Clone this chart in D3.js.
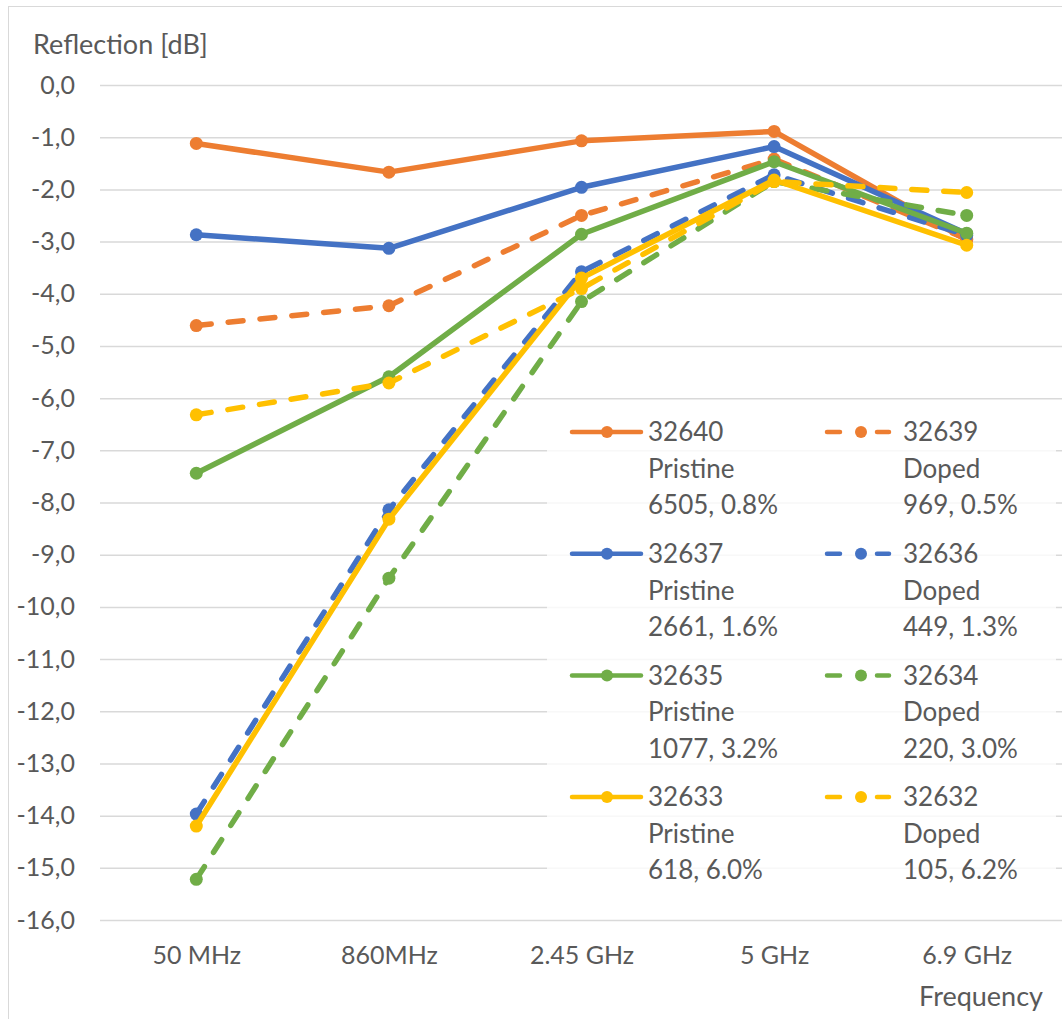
<!DOCTYPE html>
<html>
<head>
<meta charset="utf-8">
<script src="https://cdn.jsdelivr.net/npm/d3@7"></script>
<style>
    body { margin: 0; background: #fff; }
    text { font-family: Lato, "Open Sans", sans-serif; fill: #595959; }
</style>
</head>
<body>
<div id="chart"></div>
<script>
// chart data
var categories = ["50 MHz", "860MHz", "2.45 GHz", "5 GHz", "6.9 GHz"];
var yTicks = [0, -1, -2, -3, -4, -5, -6, -7, -8, -9, -10, -11, -12, -13, -14, -15, -16];

var s32640 = [-1.12, -1.67, -1.07, -0.89, -2.97];
var s32639 = [-4.61, -4.23, -2.50, -1.42, -2.95];
var s32637 = [-2.87, -3.13, -1.96, -1.18, -2.85];
var s32636 = [-13.97, -8.14, -3.58, -1.72, -2.88];
var s32635 = [-7.44, -5.59, -2.86, -1.47, -2.84];
var s32634 = [-15.22, -9.45, -4.15, -1.85, -2.50];
var s32633 = [-14.20, -8.32, -3.70, -1.82, -3.07];
var s32632 = [-6.32, -5.71, -3.90, -1.85, -2.06];

var seriesNames = ["32640", "32639", "32637", "32636", "32635", "32634", "32633", "32632"];
var seriesKinds = ["Pristine", "Doped", "Pristine", "Doped", "Pristine", "Doped", "Pristine", "Doped"];
var seriesInfo = ["6505, 0.8%", "969, 0.5%", "2661, 1.6%", "449, 1.3%", "1077, 3.2%", "220, 3.0%", "618, 6.0%", "105, 6.2%"];
var seriesValues = [s32640, s32639, s32637, s32636, s32635, s32634, s32633, s32632];

var colors = ["#ED7D31", "#ED7D31", "#4472C4", "#4472C4", "#70AD47", "#70AD47", "#FFC000", "#FFC000"];

var width = 1062;
var height = 1019;

var svg = d3.select("#chart")
    .append("svg")
    .attr("width", width)
    .attr("height", height);

svg.append("rect")
    .attr("width", width)
    .attr("height", height)
    .attr("fill", "#fff");

// chart border
svg.append("rect")
    .attr("x", 8.5)
    .attr("y", 6.5)
    .attr("width", 1100)
    .attr("height", 1100)
    .attr("fill", "none")
    .attr("stroke", "#d9d9d9");

var x = d3.scalePoint()
    .domain(categories)
    .range([100, 1063])
    .padding(0.5);

var y = d3.scaleLinear()
    .domain([-16, 0])
    .range([920, 85]);

var locale = d3.formatLocale({ decimal: ",", thousands: ".", grouping: [3], currency: ["", ""], minus: "-" });
var fmt = locale.format(".1f");

// gridlines + y labels
var yAxis = d3.axisLeft(y)
    .tickValues(yTicks)
    .tickSize(-963)
    .tickPadding(25)
    .tickFormat(fmt);

var yg = svg.append("g")
    .attr("transform", "translate(100,0)")
    .call(yAxis);
yg.select(".domain").remove();
yg.selectAll("line").attr("stroke", "#d9d9d9").attr("stroke-width", 1.5);
yg.selectAll("text")
    .style("font-family", "Lato, sans-serif")
    .style("font-size", "25px")
    .attr("fill", "#595959");

// x labels
var xAxis = d3.axisBottom(x).tickSize(0).tickPadding(26);
var xg = svg.append("g")
    .attr("transform", "translate(0,920)")
    .call(xAxis);
xg.select(".domain").remove();
xg.selectAll("text")
    .style("font-family", "Lato, sans-serif")
    .style("font-size", "25px")
    .attr("fill", "#595959");

svg.append("text")
    .attr("x", 33)
    .attr("y", 54)
    .style("font-size", "27px")
    .text("Reflection [dB]");

svg.append("text")
    .attr("x", 1043)
    .attr("y", 1006)
    .attr("text-anchor", "end")
    .style("font-size", "27px")
    .text("Frequency");

// series lines and markers
var line = d3.line()
    .x(function (d, i) { return x(categories[i]); })
    .y(function (d) { return y(d); });

seriesValues.forEach(function (values, s) {
    var dashed = seriesKinds[s] === "Doped";
    svg.append("path")
        .attr("d", line(values))
        .attr("fill", "none")
        .attr("stroke", colors[s])
        .attr("stroke-width", 5.5)
        .attr("stroke-linejoin", "round")
        .attr("stroke-linecap", "round")
        .attr("stroke-dasharray", dashed ? "15,17" : null);

    svg.selectAll(".pt" + s)
        .data(values)
        .enter().append("circle")
        .attr("cx", function (d, i) { return x(categories[i]); })
        .attr("cy", function (d) { return y(d); })
        .attr("r", 6.5)
        .attr("fill", colors[s]);
});

// legend
var legend = svg.append("g");
legend.append("rect")
    .attr("x", 547)
    .attr("y", 405)
    .attr("width", 509)
    .attr("height", 500)
    .attr("fill", "#fff")
    .attr("opacity", 0.8);

seriesNames.forEach(function (name, s) {
    var col = s % 2;
    var row = Math.floor(s / 2);
    var cy = 432 + row * 121.7;
    var x0 = col === 0 ? 570 : 825;
    var x1 = col === 0 ? 643 : 891;
    var mx = col === 0 ? 607 : 861;
    var tx = col === 0 ? 648 : 903;

    legend.append("line")
        .attr("x1", x0 + 2)
        .attr("x2", x1 - 2)
        .attr("y1", cy)
        .attr("y2", cy)
        .attr("stroke", colors[s])
        .attr("stroke-width", 4.5)
        .attr("stroke-linecap", "round")
        .attr("stroke-dasharray", col === 1 ? "13,37,13" : null);

    legend.append("circle")
        .attr("cx", mx)
        .attr("cy", cy)
        .attr("r", 6)
        .attr("fill", colors[s]);

    [name, seriesKinds[s], seriesInfo[s]].forEach(function (t, k) {
        legend.append("text")
            .attr("x", tx)
            .attr("y", cy + k * 36.5)
            .attr("dy", "0.36em")
            .style("font-size", "26px")
            .text(t);
    });
});
</script>
</body>
</html>
